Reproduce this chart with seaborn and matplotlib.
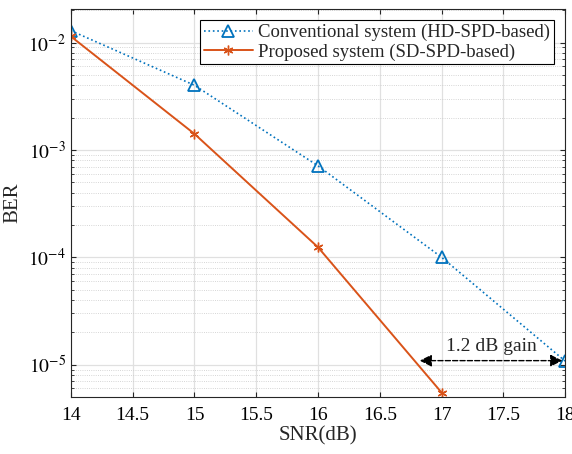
import numpy as np
import pandas as pd
import seaborn as sns
import matplotlib.pyplot as plt
from matplotlib.ticker import FixedLocator, FixedFormatter

snr_conv = [14, 15, 16, 17, 18]
ber_conv = [1.29e-2, 4.0e-3, 7.1e-4, 1.0e-4, 1.08e-5]
snr_prop = [14, 15, 16, 17]
ber_prop = [1.14e-2, 1.41e-3, 1.24e-4, 5.5e-6]
labels = ['Conventional system (HD-SPD-based)', 'Proposed system (SD-SPD-based)']
ytick_vals = [1e-5, 1e-4, 1e-3, 1e-2]
ytick_labels = ['$10^{-5}$', '$10^{-4}$', '$10^{-3}$', '$10^{-2}$']

sns.set_style('ticks')
plt.rcParams['font.family'] = ['Liberation Serif', 'DejaVu Serif']
plt.rcParams['mathtext.fontset'] = 'stix'

df = pd.concat([
    pd.DataFrame({'SNR': snr_conv, 'BER': ber_conv, 'sys': labels[0]}),
    pd.DataFrame({'SNR': snr_prop, 'BER': ber_prop, 'sys': labels[1]}),
])

fig = plt.figure(figsize=(5.72, 4.54), dpi=100)
ax = fig.add_axes([0.124, 0.1256, 0.864, 0.8544])

blue = '#0072BD'
orange = '#D95319'
sns.lineplot(data=df[df.sys == labels[0]], x='SNR', y='BER', ax=ax, color=blue,
             linestyle=':', lw=1.2, marker='^', markersize=8, markerfacecolor='none',
             markeredgecolor=blue, markeredgewidth=1.3, label=labels[0])
sns.lineplot(data=df[df.sys == labels[1]], x='SNR', y='BER', ax=ax, color=orange,
             linestyle='-', lw=1.4, marker=(6, 2, 0), markersize=7,
             markeredgecolor=orange, markeredgewidth=1.0, label=labels[1])

ax.set_yscale('log')
ax.set_xlim(14, 18)
ax.set_ylim(5e-6, 2.05e-2)
ax.yaxis.set_major_locator(FixedLocator(ytick_vals))
ax.yaxis.set_major_formatter(FixedFormatter(ytick_labels))
ax.set_xticks(np.arange(14, 18.01, 0.5))
ax.set_xticklabels(['14', '14.5', '15', '15.5', '16', '16.5', '17', '17.5', '18'])
ax.grid(True, which='major', color='#e0e0e0', lw=0.9, ls='-')
ax.grid(True, which='minor', axis='y', color='#c8c8c8', lw=0.6, ls=':')
ax.tick_params(which='both', direction='in', top=True, right=True, labelsize=14, colors='#262626')
ax.tick_params(axis='x', pad=7)
for lab in ax.get_xticklabels() + ax.get_yticklabels():
    lab.set_color('black')
for s in ax.spines.values():
    s.set_color('#262626')
    s.set_linewidth(0.8)
ax.set_xlabel('SNR(dB)', fontsize=15, labelpad=2)
ax.set_ylabel('BER', fontsize=15)

ax.annotate('', xy=(16.8, 1.09e-5), xytext=(18, 1.09e-5),
            arrowprops=dict(arrowstyle='<|-|>', ls='--', color='black', lw=1, mutation_scale=18))
ax.text(17.4, 1.22e-5, '1.2 dB gain', ha='center', va='bottom', fontsize=14)

leg = ax.legend(loc='upper right', fontsize=13.5, frameon=True, fancybox=False,
                edgecolor='black', framealpha=1, borderpad=0.2, labelspacing=0.1,
                handlelength=2.6, handletextpad=0.3, borderaxespad=0.6)
leg.get_frame().set_linewidth(0.8)

fig.savefig('out.png', dpi=100)
